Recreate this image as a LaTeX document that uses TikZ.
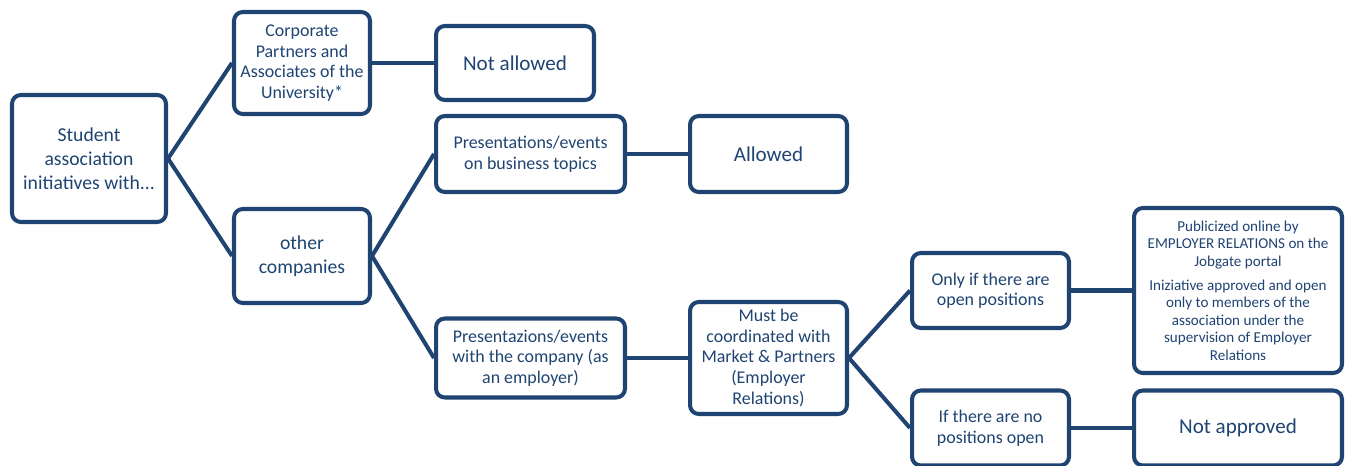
\documentclass[tikz,border=0pt]{standalone}
\usepackage{fontspec}
\setmainfont{Carlito}
\usepackage{tikz}
\usetikzlibrary{calc}
\definecolor{orgblue}{RGB}{31,68,114}

\begin{document}
\begin{tikzpicture}[x=0.02cm,y=-0.02cm,
  box/.style={draw=orgblue,line width=2.3pt,rounded corners=5pt,fill=white,
    text=orgblue,align=center,inner sep=1pt},
  txtL/.style={font=\fontsize{11.2}{13.6}\selectfont},
  txtM/.style={font=\fontsize{10.2}{11.7}\selectfont},
  txtS/.style={font=\fontsize{8.6}{9.9}\selectfont},
  txtXL/.style={font=\fontsize{12}{14}\selectfont},
  link/.style={draw=orgblue,line width=2.3pt}]
\useasboundingbox (0,0) rectangle (1351,466);
% first level
\node[box,txtL,minimum width=3.08cm,minimum height=2.54cm] (S) at (89,158.5)
  {Student\\association\\initiatives with...};
\node[box,txtM,minimum width=2.72cm,minimum height=2.04cm] (C) at (302,63)
  {Corporate\\Partners and\\Associates of the\\University*};
\node[box,txtL,minimum width=2.72cm,minimum height=1.88cm] (O) at (302,256)
  {other\\companies};
% second level
\node[box,txtXL,minimum width=3.16cm,minimum height=1.48cm] (NA) at (515,63)
  {Not allowed};
\node[box,txtM,minimum width=3.78cm,minimum height=1.52cm] (PB) at (530.5,154)
  {Presentations/events\\on business topics};
\node[box,txtM,minimum width=3.78cm,minimum height=1.58cm] (PE) at (530.5,358)
  {Presentazions/events\\with the company (as\\an employer)};
% third level
\node[box,txtXL,minimum width=3.14cm,minimum height=1.52cm] (AL) at (768.5,154)
  {Allowed};
\node[box,txtM,minimum width=3.14cm,minimum height=2.24cm] (MB) at (768.5,358)
  {Must be\\coordinated with\\Market \& Partners\\(Employer\\Relations)};
% positions
\node[box,txtM,minimum width=3.14cm,minimum height=1.5cm] (OI) at (990.5,290.5)
  {Only if there are\\open positions};
\node[box,txtM,minimum width=3.14cm,minimum height=1.5cm] (IN) at (990.5,428)
  {If there are no\\positions open};
\node[box,txtS,minimum width=4.16cm,minimum height=3.3cm] (PU) at (1238,290.5)
  {Publicized online by\\EMPLOYER RELATIONS on the\\Jobgate portal\\[4pt]
   Iniziative approved and open\\only to members of the\\association under the\\
   supervision of Employer\\Relations};
\node[box,txtXL,minimum width=4.16cm,minimum height=1.5cm] (NP) at (1238,428)
  {Not approved};
% connectors
\draw[link] (S.east) -- (C.west);
\draw[link] (S.east) -- (O.west);
\draw[link] (C.east) -- (NA.west);
\draw[link] (O.east) -- (PB.west);
\draw[link] (O.east) -- (PE.west);
\draw[link] (PB.east) -- (AL.west);
\draw[link] (PE.east) -- (MB.west);
\draw[link] (MB.east) -- (OI.west);
\draw[link] (MB.east) -- (IN.west);
\draw[link] (OI.east) -- (PU.west);
\draw[link] (IN.east) -- (NP.west);
\end{tikzpicture}
\end{document}
